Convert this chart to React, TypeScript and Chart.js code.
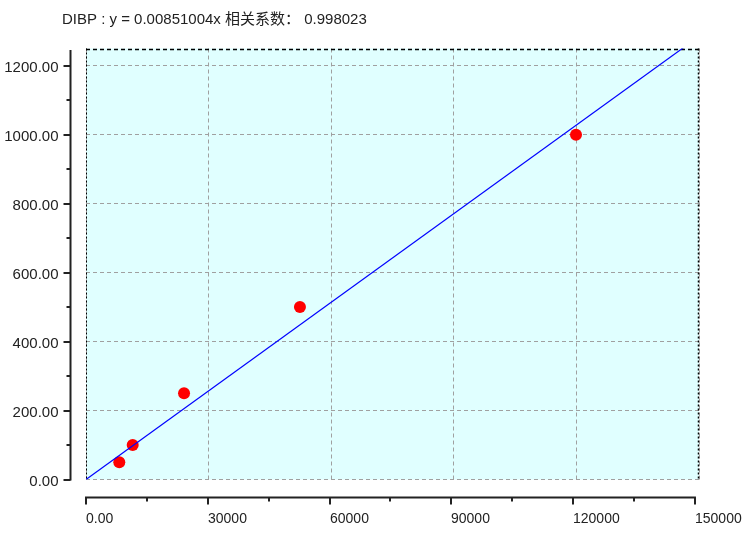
import { useEffect, useRef } from 'react';
import { Chart, registerables } from 'chart.js';

Chart.register(...registerables);

// measured points (peak area vs concentration)
const pointX = [8200, 11500, 24150, 52700, 120700];
const pointY = [50, 100, 250, 500, 1000];

// fitted line y = 0.00851004x, two end points
const fitX = [0, 151000];
const fitY = [0, 1285.02];

const xTicks = [0, 30000, 60000, 90000, 120000, 150000];
const xTickLabels = ['0.00', '30000', '60000', '90000', '120000', '150000'];
const xMinor = [15000, 45000, 75000, 105000, 135000];
const yTicks = [0, 200, 400, 600, 800, 1000, 1200];
const yTickLabels = ['0.00', '200.00', '400.00', '600.00', '800.00', '1000.00', '1200.00'];
const yMinor = [100, 300, 500, 700, 900, 1100];

const titleText = 'DIBP : y = 0.00851004x 相关系数： 0.998023';

const FAMILY = '"Liberation Sans", Arial, "Noto Sans CJK SC", sans-serif';

const framePlugin = {
  id: 'frame',
  beforeDraw(chart: any) {
    const { ctx, chartArea: a } = chart;
    ctx.save();
    ctx.fillStyle = '#e0ffff';
    ctx.fillRect(a.left, a.top, a.right - a.left, a.bottom - a.top);
    ctx.restore();
  },
  beforeDatasetsDraw(chart: any) {
    const { ctx, chartArea: a } = chart;
    ctx.save();
    ctx.strokeStyle = '#000';
    ctx.lineWidth = 1;
    ctx.setLineDash([2, 2]);
    ctx.beginPath();
    ctx.moveTo(a.left + 0.5, a.top);
    ctx.lineTo(a.left + 0.5, a.bottom);
    ctx.stroke();
    ctx.lineWidth = 1.5;
    ctx.setLineDash([4, 3]);
    ctx.beginPath();
    ctx.moveTo(a.left, a.top + 1);
    ctx.lineTo(a.right, a.top + 1);
    ctx.stroke();
    ctx.setLineDash([2, 2]);
    ctx.beginPath();
    ctx.moveTo(a.right - 0.5, a.top);
    ctx.lineTo(a.right - 0.5, a.bottom);
    ctx.stroke();
    ctx.restore();
  },
  afterDraw(chart: any) {
    const { ctx, chartArea: a } = chart;
    const xs = chart.scales.x;
    const ys = chart.scales.y;
    ctx.save();
    ctx.strokeStyle = '#222';
    ctx.fillStyle = '#222';
    ctx.lineWidth = 2;

    // y axis, set off to the left of the plot
    ctx.font = '15px ' + FAMILY;
    const ax = a.left - 15.5;
    const y0 = ys.getPixelForValue(0);
    ctx.beginPath();
    ctx.moveTo(ax, a.top + 1.5);
    ctx.lineTo(ax, y0 + 1);
    ctx.stroke();
    ctx.textAlign = 'right';
    ctx.textBaseline = 'alphabetic';
    yTicks.forEach((v, i) => {
      const p = Math.round(ys.getPixelForValue(v));
      ctx.beginPath();
      ctx.moveTo(ax - 7, p);
      ctx.lineTo(ax, p);
      ctx.stroke();
      ctx.fillText(yTickLabels[i], ax - 12, p + 6);
    });
    yMinor.forEach((v) => {
      const p = Math.round(ys.getPixelForValue(v));
      ctx.beginPath();
      ctx.moveTo(ax - 4, p);
      ctx.lineTo(ax, p);
      ctx.stroke();
    });

    // x axis, set off below the plot
    ctx.font = '14px ' + FAMILY;
    const ay = a.bottom + 18;
    ctx.beginPath();
    ctx.moveTo(xs.getPixelForValue(0) - 1, ay);
    ctx.lineTo(xs.getPixelForValue(150000) + 1, ay);
    ctx.stroke();
    ctx.textAlign = 'left';
    xTicks.forEach((v, i) => {
      const p = Math.round(xs.getPixelForValue(v));
      ctx.beginPath();
      ctx.moveTo(p, ay);
      ctx.lineTo(p, ay + 7);
      ctx.stroke();
      ctx.fillText(xTickLabels[i], p, ay + 25);
    });
    xMinor.forEach((v) => {
      const p = Math.round(xs.getPixelForValue(v));
      ctx.beginPath();
      ctx.moveTo(p, ay);
      ctx.lineTo(p, ay + 4);
      ctx.stroke();
    });

    // title
    ctx.font = '15px ' + FAMILY;
    ctx.fillText(titleText, 62, 24);
    ctx.restore();
  },
};

export default function App() {
  const canvasRef = useRef<HTMLCanvasElement>(null);
  const chartRef = useRef<Chart | null>(null);

  useEffect(() => {
    if (!canvasRef.current) return;
    if (chartRef.current) chartRef.current.destroy();

    const points = pointX.map((x, i) => ({ x, y: pointY[i] }));
    const fit = fitX.map((x, i) => ({ x, y: fitY[i] }));

    const grid = { color: '#a0a0a0', lineWidth: 1, drawTicks: false };
    const border = { display: false, dash: [4, 3] };

    chartRef.current = new Chart(canvasRef.current, {
      type: 'scatter',
      data: {
        datasets: [
          {
            type: 'line',
            data: fit,
            borderColor: '#0000ff',
            borderWidth: 1.2,
            pointRadius: 0,
            fill: false,
            clip: 0,
          },
          {
            data: points,
            backgroundColor: '#ff0000',
            borderWidth: 0,
            pointRadius: 6,
          },
        ],
      },
      options: {
        responsive: true,
        maintainAspectRatio: false,
        animation: false,
        layout: { padding: { left: 86, right: 47, top: 48.5, bottom: 63.5 } },
        plugins: {
          legend: { display: false },
          tooltip: { enabled: false },
        },
        scales: {
          x: {
            type: 'linear',
            min: 0,
            max: 151000,
            ticks: { display: false, stepSize: 30000, includeBounds: false },
            grid,
            border,
          },
          y: {
            type: 'linear',
            min: 0,
            max: 1250,
            ticks: { display: false, stepSize: 200, includeBounds: false },
            grid,
            border,
          },
        },
      },
      plugins: [framePlugin],
    } as any);

    return () => {
      if (chartRef.current) {
        chartRef.current.destroy();
        chartRef.current = null;
      }
    };
  }, []);

  return (
    <div style={{ position: 'fixed', left: 0, top: 0, width: 746, height: 543, background: '#fff' }}>
      <canvas ref={canvasRef} />
    </div>
  );
}
